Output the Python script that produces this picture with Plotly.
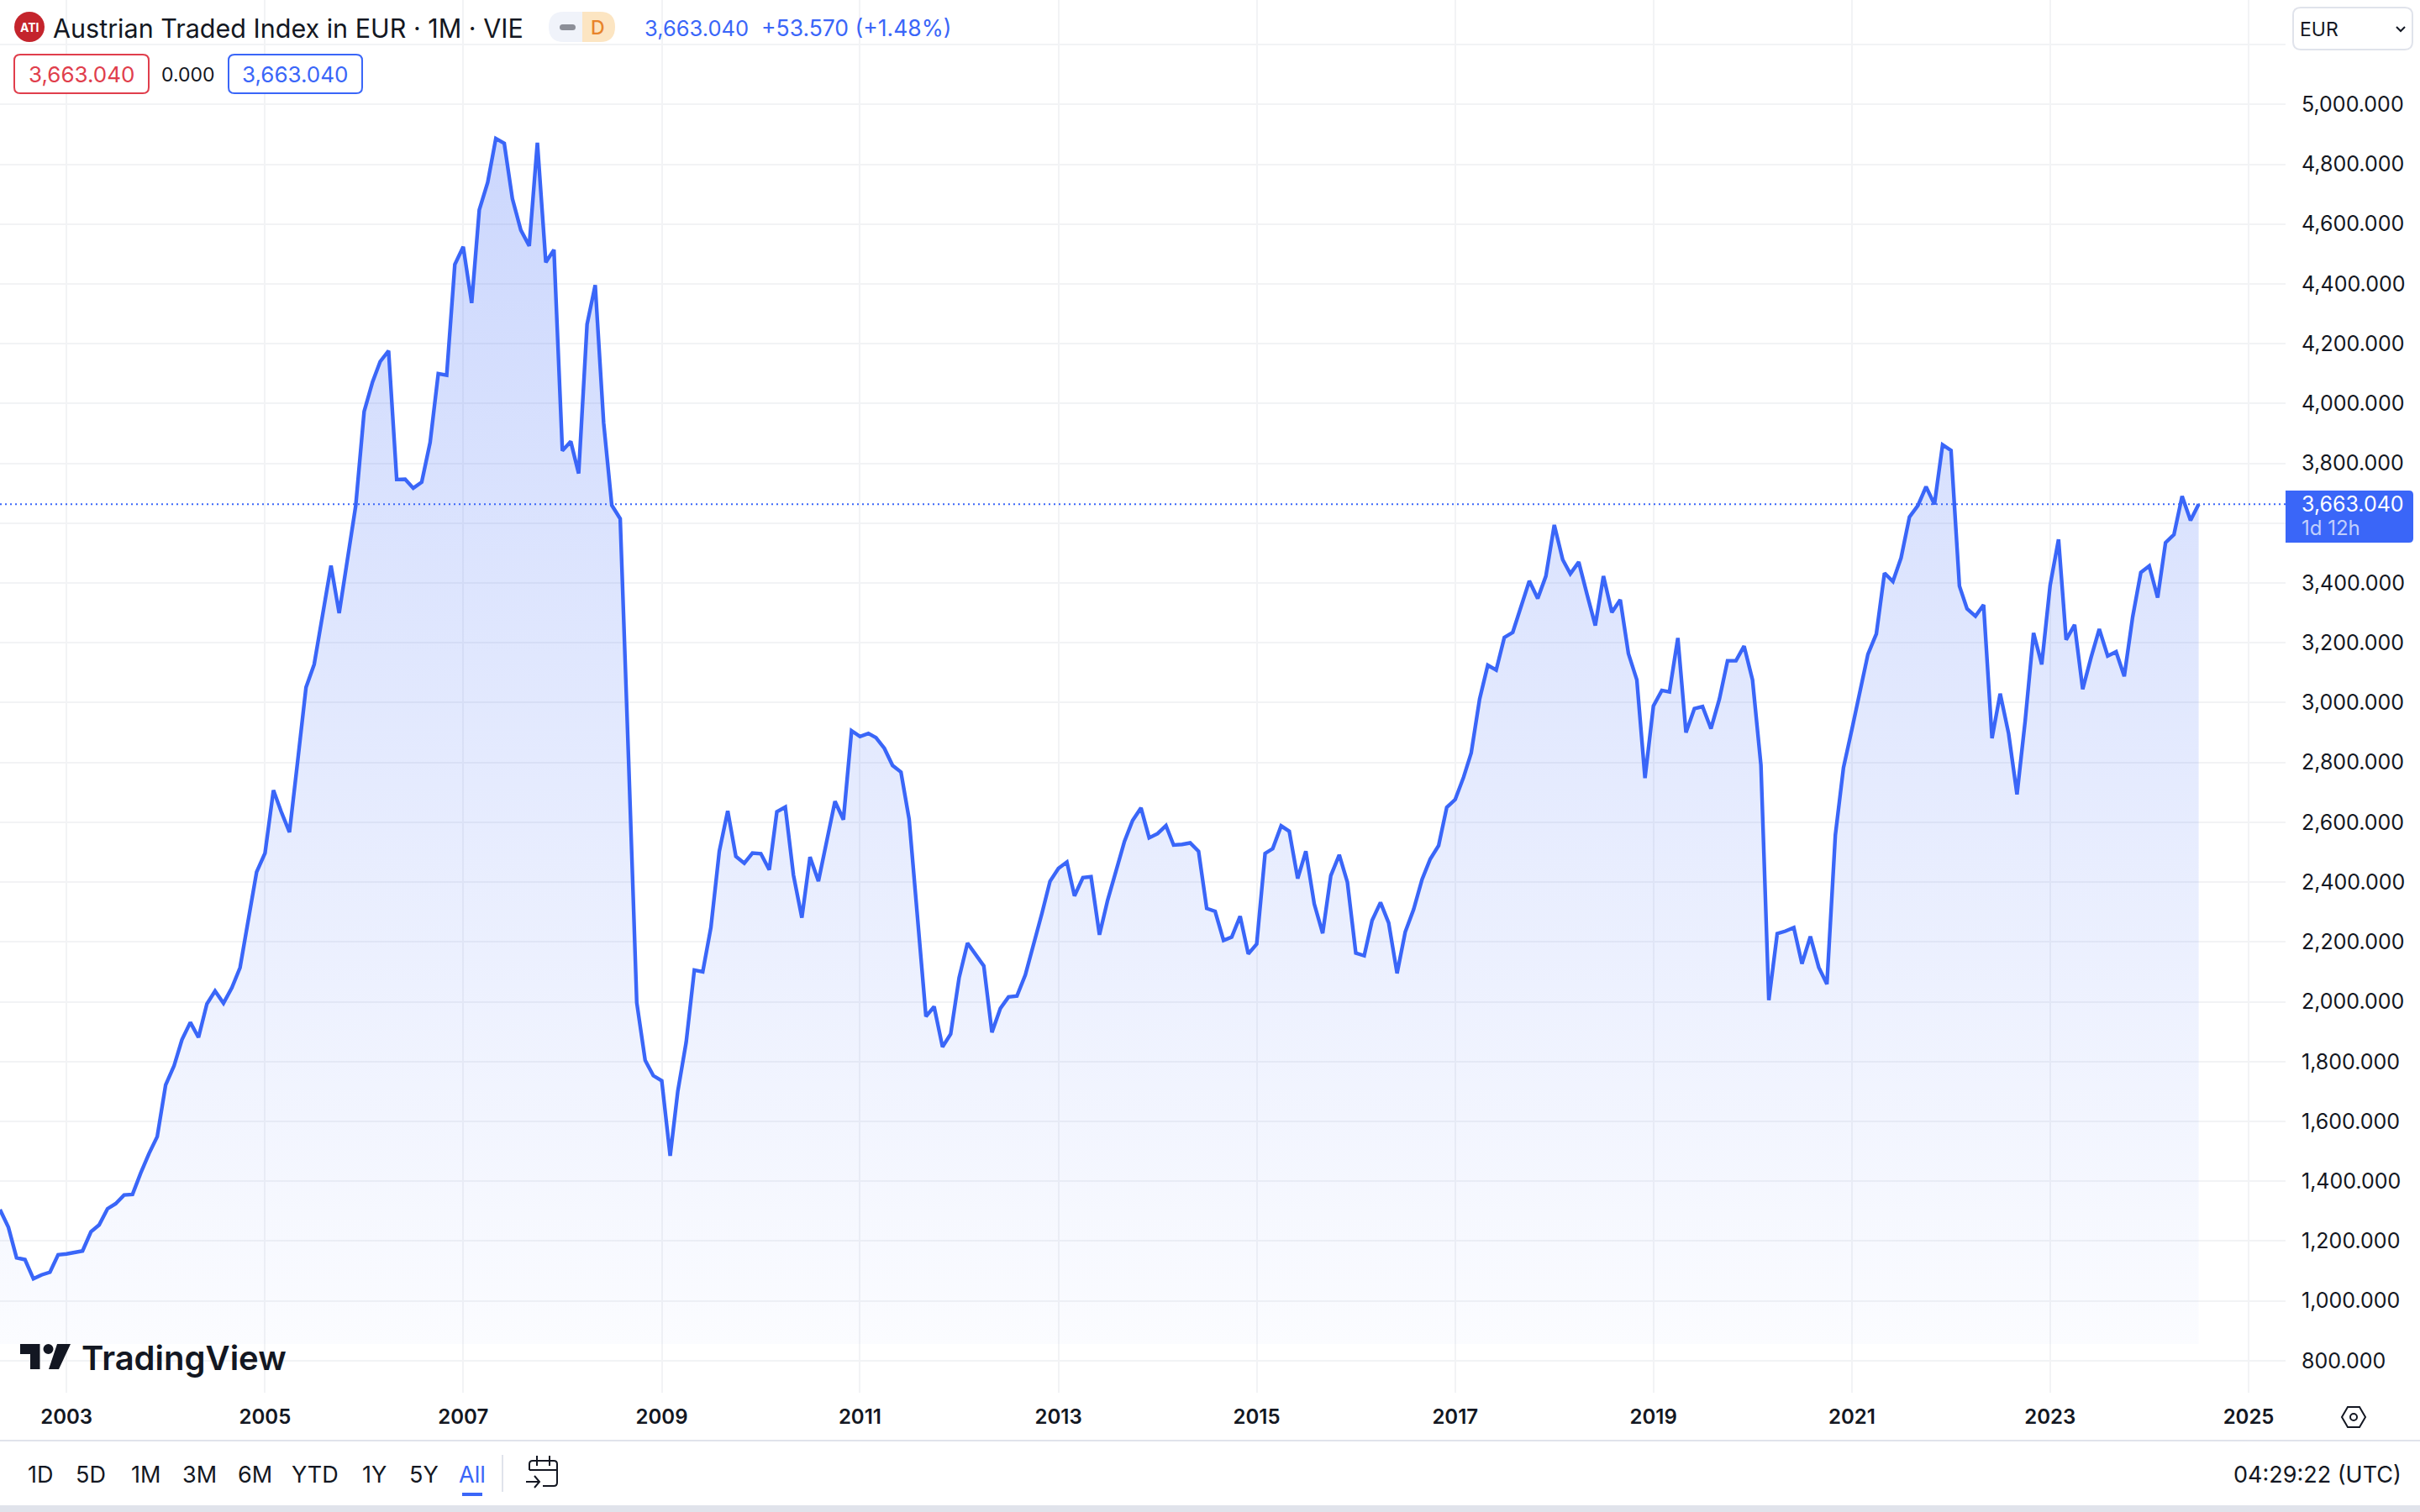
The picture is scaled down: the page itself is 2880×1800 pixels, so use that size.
import pandas as pd
import plotly.graph_objects as go

# ---- data ----
index_values = [
    1305, 1246, 1144, 1138, 1074, 1087, 1096, 1154,
    1157, 1161, 1167, 1231, 1254, 1308, 1325, 1354, 1356, 1427, 1493, 1549,
    1722, 1786, 1873, 1931, 1881, 1993, 2036, 1995, 2047, 2114, 2278, 2434,
    2497, 2707, 2637, 2567, 2803, 3051, 3128, 3295, 3458, 3299, 3486, 3658,
    3973, 4072, 4140, 4176, 3746, 3747, 3717, 3737, 3870, 4100, 4095, 4465,
    4524, 4336, 4647, 4739, 4886, 4870, 4685, 4580, 4527, 4872, 4472, 4514,
    3842, 3873, 3766, 4265, 4396, 3936, 3660, 3615, 2805, 1997, 1804, 1753,
    1736, 1485, 1700, 1865, 2106, 2100, 2248, 2503, 2638, 2486, 2463, 2497,
    2495, 2441, 2635, 2651, 2424, 2281, 2484, 2403, 2539, 2670, 2609, 2906,
    2887, 2897, 2883, 2847, 2790, 2768, 2611, 2281, 1951, 1984, 1849, 1892,
    2080, 2196, 2159, 2120, 1898, 1978, 2016, 2019, 2090, 2188, 2295, 2403,
    2446, 2467, 2354, 2415, 2418, 2224, 2339, 2437, 2536, 2606, 2648, 2548,
    2562, 2589, 2524, 2526, 2531, 2503, 2312, 2302, 2205, 2216, 2286, 2160,
    2193, 2496, 2512, 2588, 2570, 2412, 2503, 2327, 2229, 2422, 2491, 2400,
    2163, 2154, 2272, 2332, 2264, 2095, 2233, 2309, 2409, 2477, 2522, 2650,
    2676, 2751, 2832, 3012, 3125, 3109, 3218, 3235, 3321, 3407, 3348, 3423,
    3594, 3478, 3431, 3470, 3364, 3258, 3423, 3302, 3344, 3164, 3076, 2748,
    2989, 3041, 3036, 3216, 2900, 2980, 2987, 2913, 3012, 3140, 3140, 3189,
    3076, 2791, 2005, 2228, 2236, 2248, 2127, 2218, 2115, 2059, 2557, 2783,
    2911, 3038, 3162, 3230, 3433, 3405, 3484, 3621, 3659, 3722, 3663, 3862,
    3843, 3390, 3314, 3289, 3327, 2881, 3030, 2897, 2693, 2938, 3233, 3128,
    3392, 3546, 3210, 3260, 3045, 3152, 3246, 3156, 3170, 3088, 3287, 3435,
    3457, 3351, 3535, 3562, 3690, 3609.47, 3663.04,
]
months = pd.date_range("2002-05-01", periods=len(index_values), freq="MS")
last_price = index_values[-1]
fill_floor = 856
y_ticks = list(range(800, 5400, 200))
y_hidden = [3600, 5200]
y_labels = ["" if v in y_hidden else f"{v:,.3f}" for v in y_ticks]
x_range = ["2002-05-01", "2025-05-17"]
range_buttons = [("1D", 48), ("5D", 108), ("1M", 173), ("3M", 237), ("6M", 303),
                 ("YTD", 375), ("1Y", 445), ("5Y", 504)]

# ---- styling ----
BLUE = "#3A66F8"
RED = "#E03E4C"
INK = "#131722"
GRID = "#F2F3F5"
EDGE = "#E0E3EB"
FONT = "Inter"
W, H = 2880, 1800
PW, PH = 2720, 1658


def X(x):
    return x / PW


def Y(y):
    return (PH - y) / PH


def path(points, close=False):
    s = ""
    for i, p in enumerate(points):
        if p[0] == "Q":
            s += f"Q{X(p[1]):.6f},{Y(p[2]):.6f} {X(p[3]):.6f},{Y(p[4]):.6f} "
        else:
            s += ("M" if i == 0 else "L") + f"{X(p[0]):.6f},{Y(p[1]):.6f} "
    return s + ("Z" if close else "")


def rrect(x0, y0, x1, y1, r=(8, 8, 8, 8)):
    tl, tr, br, bl = r
    return path([
        (x0 + tl, y0), (x1 - tr, y0), ("Q", x1, y0, x1, y0 + tr),
        (x1, y1 - br), ("Q", x1, y1, x1 - br, y1), (x0 + bl, y1),
        ("Q", x0, y1, x0, y1 - bl), (x0, y0 + tl), ("Q", x0, y0, x0 + tl, y0),
    ], True)


shapes = []


def add_path(d, fill=None, line=None, width=2):
    shapes.append(dict(type="path", path=d, xref="paper", yref="paper", layer="above",
                       fillcolor=fill or "rgba(0,0,0,0)",
                       line=dict(color=line or "rgba(0,0,0,0)", width=width if line else 0)))


def add_rect(x0, y0, x1, y1, fill):
    shapes.append(dict(type="rect", xref="paper", yref="paper", layer="above",
                       x0=X(x0), x1=X(x1), y0=Y(y1), y1=Y(y0), fillcolor=fill, line=dict(width=0)))


annotations = []


def text(x, y, s, size=26, color=INK, anchor="left", weight=400):
    annotations.append(dict(x=X(x), y=Y(y), xref="paper", yref="paper", text=s, showarrow=False,
                            xanchor=anchor, yanchor="middle", borderpad=0,
                            font=dict(family=FONT, size=size, color=color, weight=weight)))


fig = go.Figure()
fig.add_trace(go.Scatter(x=months, y=[fill_floor] * len(months), mode="lines",
                         line=dict(width=0), hoverinfo="skip", showlegend=False))
fig.add_trace(go.Scatter(
    x=months, y=index_values, mode="lines", showlegend=False,
    line=dict(color=BLUE, width=4.4), fill="tonexty",
    fillgradient=dict(type="vertical", start=fill_floor, stop=max(index_values),
                      colorscale=[[0, "rgba(58,102,248,0.02)"], [1, "rgba(58,102,248,0.26)"]]),
))

# last price dotted line
shapes.append(dict(type="line", xref="paper", yref="y", x0=0, x1=1, y0=last_price, y1=last_price,
                   layer="above", line=dict(color=BLUE, width=2, dash="2px,4px")))

# header
shapes.append(dict(type="circle", xref="paper", yref="paper", layer="above",
                   x0=X(17), x1=X(53), y0=Y(50), y1=Y(14), fillcolor="#C4242C", line=dict(width=0)))
text(35, 32.5, "ATI", 14, "#FFFFFF", "center", 700)
text(62, 33, "Austrian Traded Index in EUR · 1M · VIE", 30.5)
add_path(rrect(653, 14, 693, 50, (18, 0, 0, 18)), fill="#F0F3FA")
add_path(rrect(693, 14, 732, 50, (0, 18, 18, 0)), fill="#FCE5C2")
add_path(rrect(666, 29, 685, 36, (3.5, 3.5, 3.5, 3.5)), fill="#8C8F98")
text(711, 33, "D", 23, "#E8842A", "center", 500)
text(766, 33, "3,663.040", 25.5, BLUE)
text(905, 33, "+53.570 (+1.48%)", 26.5, BLUE)
add_path(rrect(17, 65, 177, 111, (7, 7, 7, 7)), fill="#FFFFFF", line=RED)
text(97, 89, "3,663.040", 26, RED, "center")
text(224, 89, "0.000", 23, INK, "center")
add_path(rrect(272, 65, 431, 111, (7, 7, 7, 7)), fill="#FFFFFF", line=BLUE)
text(351, 89, "3,663.040", 26, BLUE, "center")

# currency select
add_path(rrect(2729, 9, 2871, 59, (9, 9, 9, 9)), fill="#FFFFFF", line=EDGE)
text(2736, 35, "EUR", 23)
add_path(path([(2852, 32), (2857, 37), (2862, 32)]), line=INK, width=2)

# price tag
add_path(rrect(2720, 584, 2872, 646, (0, 5, 5, 0)), fill=BLUE)
text(2738, 600, "3,663.040", 25, "#FFFFFF")
text(2738, 628, "1d 12h", 24, "rgba(255,255,255,0.7)")

# watermark
add_path(path([(24, 1600), (47.5, 1600), (47.5, 1630), (36, 1630), (36, 1612), (24, 1612)], True), fill=INK)
shapes.append(dict(type="circle", xref="paper", yref="paper", layer="above",
                   x0=X(51.5), x1=X(63.5), y0=Y(1612), y1=Y(1600), fillcolor=INK, line=dict(width=0)))
add_path(path([(68, 1600), (84, 1600), (70, 1630), (58, 1630)], True), fill=INK)
text(96, 1616, "TradingView", 40, INK, "left", 600)

# settings icon
add_path(path([(2787, 1687), (2794, 1675), (2808, 1675), (2815, 1687), (2808, 1699), (2794, 1699)], True),
         line=INK, width=2)
shapes.append(dict(type="circle", xref="paper", yref="paper", layer="above",
                   x0=X(2797), x1=X(2805), y0=Y(1691), y1=Y(1683), line=dict(color=INK, width=2)))

# bottom toolbar
add_rect(0, 1714, W, 1716, EDGE)
add_rect(0, 1792, W, 1800, EDGE)
for label, cx in range_buttons:
    text(cx, 1755, label, 27, INK, "center")
text(562, 1755, "All", 27, BLUE, "center")
add_rect(550, 1777, 574, 1781, BLUE)
add_rect(597, 1732, 599, 1776, EDGE)
add_path(path([(630, 1750), (630, 1743), ("Q", 630, 1739, 634, 1739), (659, 1739), ("Q", 663, 1739, 663, 1743),
               (663, 1765), ("Q", 663, 1769, 659, 1769), (646, 1769)]), line=INK, width=2)
add_path(path([(630, 1750), (663, 1750)]), line=INK, width=2)
add_path(path([(639, 1733), (639, 1745)]), line=INK, width=2)
add_path(path([(654, 1733), (654, 1745)]), line=INK, width=2)
add_path(path([(626, 1764), (642, 1764)]), line=INK, width=2)
add_path(path([(636, 1757), (642, 1764), (636, 1771)]), line=INK, width=2)
text(2859, 1755, "04:29:22 (UTC)", 27, INK, "right")

fig.update_layout(
    width=W, height=H, margin=dict(l=0, r=W - PW, t=0, b=H - PH),
    paper_bgcolor="#FFFFFF", plot_bgcolor="#FFFFFF", showlegend=False, hovermode=False,
    font=dict(family=FONT, color=INK),
    shapes=shapes, annotations=annotations,
    xaxis=dict(type="date", range=x_range, tick0="2003-01-01", dtick="M24", tickformat="%Y",
               showgrid=True, gridcolor=GRID, gridwidth=2, zeroline=False, showline=False,
               ticks="", ticklabelstandoff=12, ticklabeloverflow="allow",
               tickfont=dict(family=FONT, size=24, color=INK, weight=600)),
    yaxis=dict(side="right", range=[693, 5349], tickmode="array", tickvals=y_ticks, ticktext=y_labels,
               showgrid=True, gridcolor=GRID, gridwidth=2, zeroline=False, showline=False,
               ticks="", ticklabelstandoff=18,
               tickfont=dict(family=FONT, size=25, color=INK)),
)

fig.write_html("out.html", config={"displayModeBar": False},
               post_script="document.body.style.margin='0';document.documentElement.style.overflow='hidden';")
